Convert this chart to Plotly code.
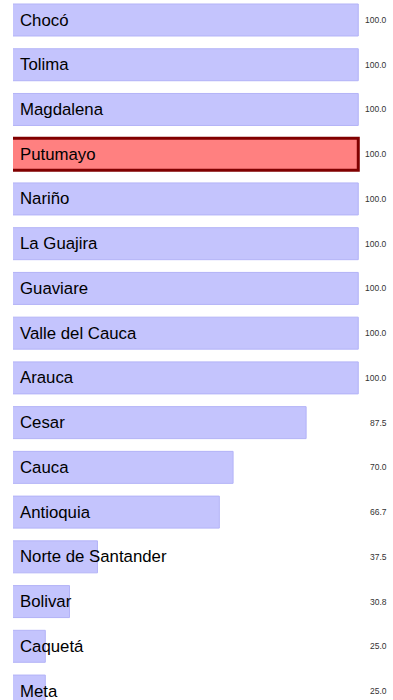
import plotly.graph_objects as go

departments = [
    "Chocó", "Tolima", "Magdalena", "Putumayo", "Nariño", "La Guajira",
    "Guaviare", "Valle del Cauca", "Arauca", "Cesar", "Cauca", "Antioquia",
    "Norte de Santander", "Bolivar", "Caquetá", "Meta",
]
values = [100.0, 100.0, 100.0, 100.0, 100.0, 100.0, 100.0, 100.0, 100.0,
          87.5, 70.0, 66.7, 37.5, 30.8, 25.0, 25.0]
highlight = "Putumayo"

fill = ["#FF8080" if d == highlight else "#C4C4FD" for d in departments]
edge = ["#800000" if d == highlight else "#B3B3F7" for d in departments]
edge_w = [3 if d == highlight else 1 for d in departments]
pos = list(range(len(departments)))

x_min, x_max = 17.26, 108.32

fig = go.Figure(
    go.Bar(
        x=values,
        y=pos,
        orientation="h",
        width=0.715,
        marker=dict(color=fill, line=dict(color=edge, width=edge_w)),
        hoverinfo="skip",
    )
)

annotations = []
for p, d, v in zip(pos, departments, values):
    annotations.append(dict(
        x=x_min, y=p, xref="x", yref="y", text=d, showarrow=False,
        xanchor="left", yanchor="middle", xshift=5,
        font=dict(family="Liberation Sans, Arial, sans-serif", size=16.8, color="#000000"),
    ))
    annotations.append(dict(
        x=107.4, y=p, xref="x", yref="y", text=f"{v:.1f}", showarrow=False,
        xanchor="right", yanchor="middle",
        font=dict(family="Liberation Sans, Arial, sans-serif", size=8.5, color="#333333"),
    ))

fig.update_layout(
    width=393,
    height=700,
    autosize=False,
    margin=dict(l=13, r=0, t=0, b=0, pad=0),
    paper_bgcolor="white",
    plot_bgcolor="white",
    showlegend=False,
    xaxis=dict(range=[x_min, x_max], visible=False, fixedrange=True),
    yaxis=dict(range=[15.2, -0.447], visible=False, fixedrange=True),
    annotations=annotations,
)

fig.write_html("out.html", config={"displayModeBar": False})
